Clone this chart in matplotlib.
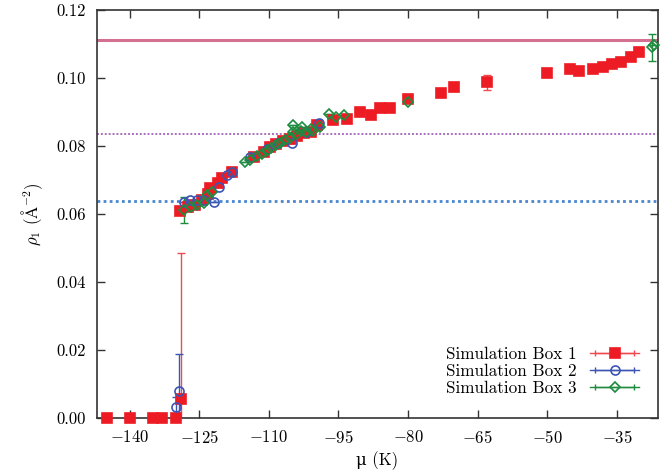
import matplotlib
matplotlib.use("Agg")

import matplotlib.pyplot as plt
from matplotlib.lines import Line2D
from matplotlib.legend_handler import HandlerLine2D, HandlerTuple

plt.rcParams["font.family"] = "serif"
plt.rcParams["font.serif"] = ["cmr10"]
plt.rcParams["mathtext.fontset"] = "cm"
plt.rcParams["axes.formatter.use_mathtext"] = True
plt.rcParams["axes.unicode_minus"] = True

# Simulation Box 1 (red squares)
box1_mu = [-144.8, -140.0, -135.0, -133.0, -129.9, -128.9,
           -129.2, -127.5, -126.0, -124.5, -123.2, -122.6, -121.0, -120.0,
           -117.9, -113.3, -111.0, -109.7, -108.5, -107.0, -105.5, -104.0,
           -102.5, -101.0, -99.6, -96.1, -93.1, -90.3, -88.0, -86.0, -84.0,
           -80.0, -73.0, -70.1, -63.1, -50.0, -45.2, -43.2, -40.1, -38.1,
           -36.0, -34.1, -32.1, -30.3]
box1_rho = [0.0, 0.0, 0.0, 0.0, 0.0, 0.0056,
            0.0610, 0.0622, 0.0628, 0.0640, 0.0660, 0.0676, 0.0690, 0.0705,
            0.0724, 0.0768, 0.0782, 0.0797, 0.0805, 0.0815, 0.0822, 0.0830,
            0.0838, 0.0842, 0.0862, 0.0876, 0.0880, 0.0900, 0.0890, 0.0912, 0.0912,
            0.0938, 0.0955, 0.0973, 0.0987, 0.1014, 0.1028, 0.1022, 0.1028, 0.1033,
            0.1040, 0.1046, 0.1061, 0.1076]
box1_err = [0.0, 0.0, 0.0, 0.0, 0.0, 0.043,
            0.0, 0.0, 0.0, 0.0, 0.0, 0.0, 0.0, 0.0,
            0.0, 0.0, 0.0, 0.0, 0.0, 0.0, 0.0, 0.0,
            0.0, 0.0, 0.0, 0.0, 0.0, 0.0, 0.0, 0.0, 0.0,
            0.0, 0.0, 0.0, 0.0022, 0.0, 0.0, 0.0, 0.0, 0.0,
            0.0, 0.0, 0.0, 0.0]

# Simulation Box 2 (blue circles)
box2_mu = [-129.9, -129.3, -128.2, -126.9, -125.4, -124.0, -121.9, -120.8,
           -119.0, -117.9, -114.0, -110.5, -108.0, -105.0, -102.0, -99.3]
box2_rho = [0.0033, 0.0079, 0.0636, 0.0640, 0.0642, 0.0640, 0.0636, 0.0680,
            0.0715, 0.0725, 0.0767, 0.0790, 0.0808, 0.0810, 0.0840, 0.0867]
box2_err = [0.003, 0.011, 0.0, 0.0, 0.0, 0.0, 0.0, 0.0,
            0.0, 0.0, 0.0, 0.0, 0.0, 0.0, 0.0, 0.0]

# Simulation Box 3 (green diamonds)
box3_mu = [-128.2, -126.8, -125.4, -124.0, -123.3, -122.2, -115.1, -114.0,
           -112.5, -111.5, -110.5, -109.5, -108.5, -107.5, -106.5, -105.5,
           -104.7, -104.0, -103.0, -102.0, -101.0, -104.7, -102.9, -100.5,
           -99.0, -97.1, -95.5, -93.9, -80.0, -27.5, -27.0]
box3_rho = [0.0612, 0.0620, 0.0626, 0.0632, 0.0656, 0.0666, 0.0754, 0.0760,
            0.0770, 0.0778, 0.0785, 0.0795, 0.0802, 0.0810, 0.0818, 0.0825,
            0.0842, 0.0835, 0.0845, 0.0842, 0.0850, 0.0862, 0.0857, 0.0845,
            0.0855, 0.0894, 0.0885, 0.0891, 0.0929, 0.1090, 0.1098]
box3_err = [0.0037, 0.0, 0.0, 0.0, 0.0, 0.0, 0.0, 0.0,
            0.0, 0.0, 0.0, 0.0, 0.0, 0.0, 0.0, 0.0,
            0.0, 0.0, 0.0, 0.0, 0.0, 0.0, 0.0, 0.0,
            0.0, 0.0, 0.0, 0.0, 0.0, 0.004, 0.0]

# reference densities
rho_solid = 0.1112
rho_purple = 0.0835
rho_blue = 0.0637

x_ticks = [-140, -125, -110, -95, -80, -65, -50, -35]
y_ticks = [0.0, 0.02, 0.04, 0.06, 0.08, 0.10, 0.12]

red = "#ed1c24"
blue = "#3c55b4"
green = "#1e8c3f"
frame = "#333333"

fig = plt.figure(figsize=(6.71, 4.76), dpi=100)
ax = fig.add_axes([0.1446, 0.1218, 0.836, 0.857])

ax.axhline(rho_solid, color="#d4708f", lw=2.2, zorder=1)
ax.axhline(rho_purple, color="#a96fbc", lw=1.4, linestyle=(0, (1, 1)), zorder=1)
ax.axhline(rho_blue, color="#4a86cf", lw=2.0, linestyle=(0, (1, 1.2)), zorder=1)

series = [
    (box1_mu, box1_rho, box1_err, red, "#f04a50", "s", 7.5, True, "Simulation Box 1"),
    (box2_mu, box2_rho, box2_err, blue, blue, "o", 6.5, False, "Simulation Box 2"),
    (box3_mu, box3_rho, box3_err, green, green, "D", 5.5, False, "Simulation Box 3"),
]

handles = []
labels = []
handler_map = {}
for mu, rho, err, col, ecol, mk, ms, filled, lab in series:
    face = col if filled else "none"
    # error bars clipped to the frame, markers not
    ax.errorbar(mu, rho, yerr=err, fmt="none", ecolor=ecol, elinewidth=1.0,
                capsize=3, capthick=1.0, zorder=2)
    ax.plot(mu, rho, linestyle="none", marker=mk, ms=ms, mfc=face, mec=col,
            mew=1.2, zorder=3, clip_on=False)
    mark_line = Line2D([], [], color=ecol, lw=1.0, marker=mk, ms=ms,
                       mfc=face, mec=col, mew=1.2)
    cap_line = Line2D([], [], color=ecol, lw=1.0, marker="|", ms=5, mew=1.0)
    handler_map[mark_line] = HandlerLine2D(numpoints=1)
    handler_map[cap_line] = HandlerLine2D(numpoints=2)
    handles.append((cap_line, mark_line))
    labels.append(lab)

handler_map[tuple] = HandlerTuple(ndivide=1)

ax.set_xlim(-147, -26.2)
ax.set_ylim(0, 0.12)
ax.set_xticks(x_ticks)
ax.set_yticks(y_ticks)
ax.set_yticklabels([f"{v:.2f}" for v in y_ticks])
ax.set_xticklabels([f"$-{abs(v)}$" for v in x_ticks])

ax.tick_params(direction="in", length=6, width=1.0, color=frame,
               top=True, right=True, labelsize=12, pad=8)
for sp in ax.spines.values():
    sp.set_color(frame)
    sp.set_linewidth(1.2)

ax.set_xlabel("μ (K)", fontsize=12, labelpad=4, family=["cmr10", "DejaVu Serif"])
ax.set_ylabel(r"$\rho_1$ ($\mathrm{\AA}^{-2}$)", fontsize=12, labelpad=8)

leg = ax.legend(handles, labels, handler_map=handler_map, loc="lower right",
                bbox_to_anchor=(0.988, 0.025), frameon=False, markerfirst=False,
                fontsize=12.3, handlelength=2.9, handletextpad=0.75,
                labelspacing=0.1, borderpad=0.2)

fig.savefig("out.png", dpi=100)
